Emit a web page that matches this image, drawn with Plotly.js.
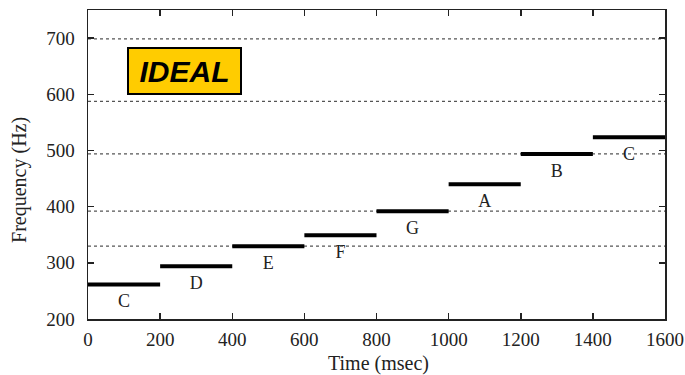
<!DOCTYPE html>
<html>
<head>
<meta charset="utf-8">
<script src="https://cdn.plot.ly/plotly-3.0.1.min.js"></script>
<style>html,body{margin:0;padding:0;background:#fff;}#chart{width:685px;height:375px;}</style>
</head>
<body>
<div id="chart"></div>
<script>
const noteNames = ['C', 'D', 'E', 'F', 'G', 'A', 'B', 'C'];
const noteFreqs = [261.6, 293.7, 329.6, 349.2, 392.0, 440.0, 493.9, 523.3];
const noteStarts = [0, 200, 400, 600, 800, 1000, 1200, 1400];
const noteEnds = [200, 400, 600, 800, 1000, 1200, 1400, 1600];
const staffLines = [329.6, 392.0, 493.9, 587.3, 698.5];
const xTicks = [0, 200, 400, 600, 800, 1000, 1200, 1400, 1600];
const yTicks = [200, 300, 400, 500, 600, 700];
const labelOffset = 33;

const segX = [], segY = [];
noteFreqs.forEach((f, i) => {
  segX.push(noteStarts[i], noteEnds[i], null);
  segY.push(f, f, null);
});

const traces = [
  {
    x: segX, y: segY, mode: 'lines', type: 'scatter',
    line: {color: '#000', width: 4}, hoverinfo: 'skip', showlegend: false
  },
  {
    x: noteStarts.map((s, i) => (s + noteEnds[i]) / 2),
    y: noteFreqs.map(f => f - labelOffset),
    text: noteNames, mode: 'text', type: 'scatter',
    textfont: {family: 'Liberation Serif, serif', size: 18, color: '#222'},
    textposition: 'middle center', showlegend: false, hoverinfo: 'skip'
  }
];

const shapes = staffLines.map(f => ({
  type: 'line', xref: 'x', yref: 'y', x0: 0, x1: 1600, y0: f, y1: f,
  line: {color: '#555', width: 1.3, dash: 'dot'}, layer: 'below'
}));

const tickFont = {family: 'Liberation Serif, serif', size: 19, color: '#222'};
const titleFont = {family: 'Liberation Serif, serif', size: 20, color: '#222'};

const layout = {
  width: 685, height: 375,
  margin: {l: 88, r: 20, t: 10, b: 56},
  paper_bgcolor: '#fff', plot_bgcolor: '#fff',
  showlegend: false,
  xaxis: {
    range: [0, 1600], tickvals: xTicks, ticktext: xTicks.map(String),
    ticks: 'inside', ticklen: 6, tickwidth: 1.5, tickcolor: '#222',
    showline: true, linecolor: '#222', linewidth: 1.5, mirror: 'ticks',
    showgrid: false, zeroline: false, tickfont: tickFont, ticklabelstandoff: 3
  },
  yaxis: {
    range: [200, 750], tickvals: yTicks, ticktext: yTicks.map(String),
    ticks: 'inside', ticklen: 6, tickwidth: 1.5, tickcolor: '#222',
    showline: true, linecolor: '#222', linewidth: 1.5, mirror: 'ticks',
    showgrid: false, zeroline: false, tickfont: tickFont, ticklabelstandoff: 8
  },
  shapes: shapes,
  annotations: [
    {
      text: '<b><i>IDEAL</i></b>', xref: 'x', yref: 'y', x: 268, y: 641,
      showarrow: false, font: {family: 'Liberation Sans, Arial, sans-serif', size: 30, color: '#000'},
      bgcolor: '#FFCC00', bordercolor: '#000', borderwidth: 2, borderpad: 0,
      width: 111, height: 44, xanchor: 'center', yanchor: 'middle'
    },
    {
      text: 'Time (msec)', xref: 'paper', yref: 'paper', x: 0.5026, y: -0.1424,
      xanchor: 'center', yanchor: 'middle', showarrow: false, font: titleFont
    },
    {
      text: 'Frequency (Hz)', xref: 'paper', yref: 'paper', x: -0.1179, y: 0.45,
      xanchor: 'center', yanchor: 'middle', showarrow: false, font: titleFont, textangle: -90
    }
  ]
};

Plotly.newPlot('chart', traces, layout, {displayModeBar: false, staticPlot: true});
</script>
</body>
</html>
